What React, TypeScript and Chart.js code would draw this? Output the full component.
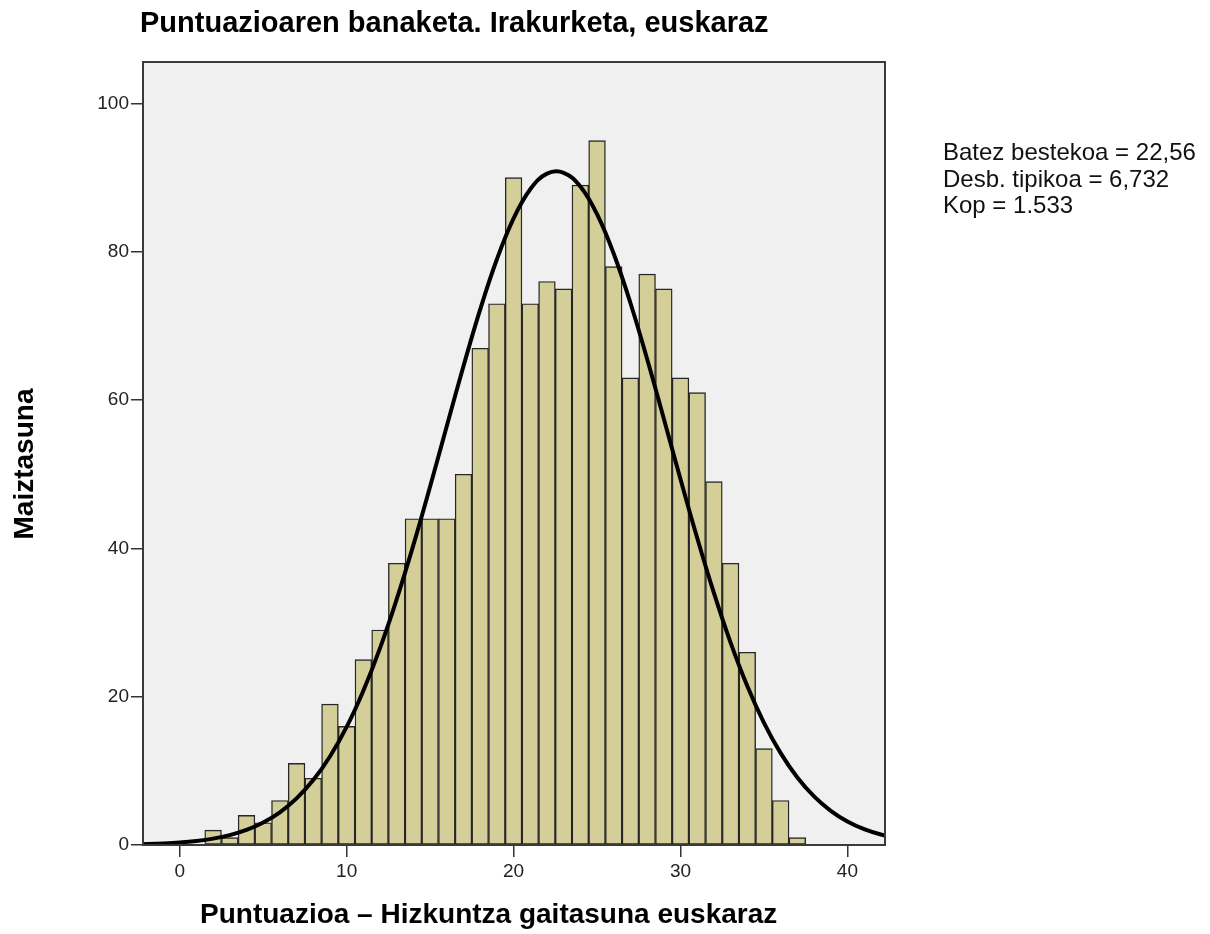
import React, { useEffect, useRef } from 'react';
import { Chart, registerables } from 'chart.js';

Chart.register(...registerables);

// ---- Data ----
const binCenters = [2, 3, 4, 5, 6, 7, 8, 9, 10, 11, 12, 13, 14, 15, 16, 17, 18, 19, 20, 21, 22, 23, 24, 25, 26, 27, 28, 29, 30, 31, 32, 33, 34, 35, 36, 37];
const frequencies = [2, 1, 4, 3, 6, 11, 9, 19, 16, 25, 29, 38, 44, 44, 44, 50, 67, 73, 90, 73, 76, 75, 89, 95, 78, 63, 77, 75, 63, 61, 49, 38, 26, 13, 6, 1];

const curveX = [-3, -2, -1, 0, 1, 2, 3, 4, 5, 6, 7, 8, 9, 10, 11, 12, 13, 14, 15, 16, 17, 18, 19, 20, 21, 22, 23, 24, 25, 26, 27, 28, 29, 30, 31, 32, 33, 34, 35, 36, 37, 38, 39, 40, 41, 42, 43];
const curveY = [0.07, 0.12, 0.2, 0.33, 0.54, 0.86, 1.34, 2.03, 3.03, 4.41, 6.29, 8.76, 11.94, 15.93, 20.81, 26.55, 33.15, 40.48, 48.36, 56.51, 64.59, 72.23, 78.99, 84.51, 88.44, 90.54, 90.66, 88.8, 85.07, 79.73, 73.1, 65.54, 57.49, 49.33, 41.4, 33.99, 27.29, 21.44, 16.48, 12.39, 9.1, 6.55, 4.61, 3.17, 2.13, 1.41, 0.91];

const xTickValues = [0, 10, 20, 30, 40];
const yTickValues = [0, 20, 40, 60, 80, 100];

const chartTitle = 'Puntuazioaren banaketa. Irakurketa, euskaraz';
const xAxisTitle = 'Puntuazioa – Hizkuntza gaitasuna euskaraz';
const yAxisTitle = 'Maiztasuna';
const statsLines = ['Batez bestekoa = 22,56', 'Desb. tipikoa = 6,732', 'Kop = 1.533'];

const FONT = '"Liberation Sans", Arial, Helvetica, sans-serif';

const decorPlugin = {
  id: 'decor',
  beforeDatasetsDraw(chart: any) {
    const { ctx, chartArea } = chart;
    ctx.save();
    ctx.fillStyle = '#F0F0F0';
    ctx.fillRect(chartArea.left, chartArea.top, chartArea.right - chartArea.left, chartArea.bottom - chartArea.top);
    ctx.restore();
  },
  afterDatasetsDraw(chart: any) {
    const { ctx, chartArea } = chart;
    ctx.save();
    ctx.strokeStyle = '#3a3a3a';
    ctx.lineWidth = 2;
    ctx.strokeRect(chartArea.left, chartArea.top, chartArea.right - chartArea.left, chartArea.bottom - chartArea.top);
    ctx.restore();
  },
  afterDraw(chart: any) {
    const { ctx } = chart;
    ctx.save();
    ctx.fillStyle = '#000';
    ctx.textBaseline = 'alphabetic';
    ctx.textAlign = 'left';
    ctx.font = `bold 29px ${FONT}`;
    ctx.fillText(chartTitle, 140, 32);
    ctx.font = `bold 28px ${FONT}`;
    ctx.fillText(xAxisTitle, 200, 923);
    ctx.save();
    ctx.translate(33, 464);
    ctx.rotate(-Math.PI / 2);
    ctx.textAlign = 'center';
    ctx.fillText(yAxisTitle, 0, 0);
    ctx.restore();
    ctx.font = `24px ${FONT}`;
    ctx.fillStyle = '#111';
    statsLines.forEach((line, i) => {
      ctx.fillText(line, 943, 160 + i * 26.7);
    });
    ctx.restore();
  },
};

export default function App() {
  const canvasRef = useRef<HTMLCanvasElement | null>(null);

  useEffect(() => {
    const canvas = canvasRef.current;
    if (!canvas) return;
    const chart = new Chart(canvas, {
      type: 'bar',
      data: {
        datasets: [
          {
            type: 'line',
            data: curveX.map((x, i) => ({ x, y: curveY[i] })),
            borderColor: '#000',
            borderWidth: 4,
            pointRadius: 0,
            tension: 0.4,
            fill: false,
            clip: 0,
            order: 0,
          } as any,
          {
            type: 'bar',
            data: binCenters.map((x, i) => ({ x, y: frequencies[i] })),
            backgroundColor: '#D4CF98',
            borderColor: '#262626',
            borderWidth: 1.4,
            borderSkipped: false,
            barPercentage: 1,
            categoryPercentage: 1,
            grouped: false,
            order: 1,
          } as any,
        ],
      },
      options: {
        responsive: false,
        animation: false,
        devicePixelRatio: 1,
        layout: { padding: { top: 62, right: 325, left: 0, bottom: 0 } },
        plugins: {
          legend: { display: false },
          tooltip: { enabled: false },
          title: { display: false },
        },
        scales: {
          x: {
            type: 'linear',
            min: -2.2,
            max: 42.25,
            offset: false,
            afterFit: (scale: any) => {
              scale.height = 89;
            },
            afterBuildTicks: (scale: any) => {
              scale.ticks = xTickValues.map((v) => ({ value: v }));
            },
            ticks: {
              font: { family: FONT, size: 19 },
              color: '#222',
              padding: 3,
              maxRotation: 0,
              callback: (v: any) => String(v),
            },
            grid: {
              display: true,
              offset: false,
              drawOnChartArea: false,
              drawTicks: true,
              tickLength: 12,
              color: '#333',
              lineWidth: 1.5,
            },
            border: { display: false },
          },
          y: {
            type: 'linear',
            min: 0,
            max: 105.6,
            afterFit: (scale: any) => {
              scale.width = 143;
            },
            afterBuildTicks: (scale: any) => {
              scale.ticks = yTickValues.map((v) => ({ value: v }));
            },
            ticks: {
              font: { family: FONT, size: 19 },
              color: '#222',
              padding: 2,
              callback: (v: any) => String(v),
            },
            grid: {
              display: true,
              offset: false,
              drawOnChartArea: false,
              drawTicks: true,
              tickLength: 12,
              color: '#333',
              lineWidth: 1.5,
            },
            border: { display: false },
          },
        },
      } as any,
      plugins: [decorPlugin],
    });
    return () => chart.destroy();
  }, []);

  return (
    <div style={{ position: 'fixed', left: 0, top: 0, width: 1210, height: 934, background: '#fff' }}>
      <canvas ref={canvasRef} width={1210} height={934} style={{ display: 'block' }} />
    </div>
  );
}
